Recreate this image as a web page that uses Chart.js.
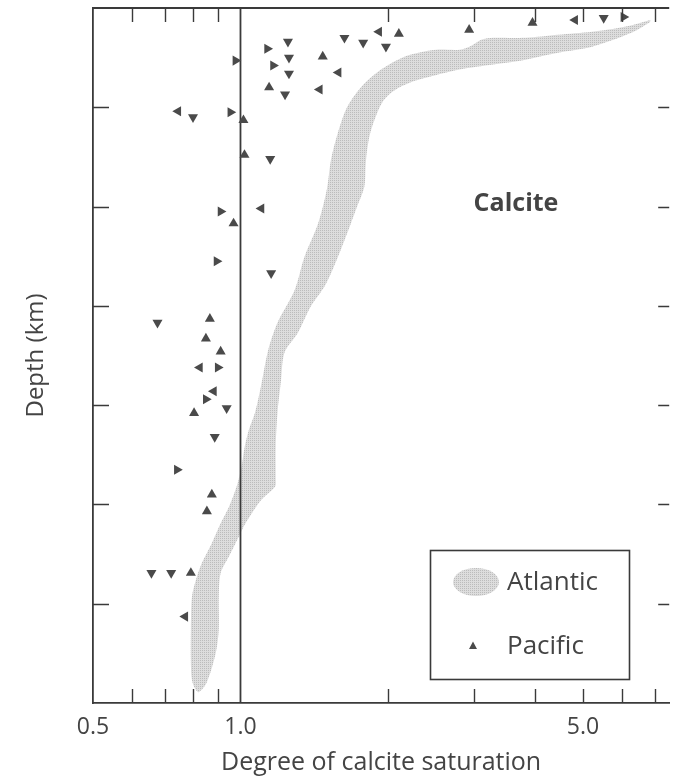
<!DOCTYPE html>
<html>
<head>
<meta charset="utf-8">
<script src="https://cdn.jsdelivr.net/npm/chart.js@4/dist/chart.umd.min.js"></script>
<style>
  html, body { margin: 0; padding: 0; background: #ffffff; }
  #wrap { width: 675px; height: 779px; }
</style>
</head>
<body>
<div id="wrap"><canvas id="c" width="675" height="779"></canvas></div>
<script>
// ---------- data ----------
const satTickLabels = [0.5, 1.0, 5.0];
const satMinorTicks = [0.6, 0.7, 0.8, 0.9, 2, 3, 4, 5, 6, 7];
const depthTicks = [1, 2, 3, 4, 5, 6];

// Atlantic band: upper/left edge (from surface tip down to the bottom)
const atlUpperSat   = [6.86, 6.08, 5.22, 4.45, 3.82, 3.28, 3.10, 2.96, 2.80, 2.51, 2.22, 2.06, 1.90, 1.76, 1.65, 1.58, 1.53, 1.50, 1.44, 1.35, 1.29, 1.19, 1.14, 1.10, 1.07, 1.04, 1.02, 1.005, 0.982, 0.946, 0.911, 0.874, 0.834, 0.811, 0.796, 0.792, 0.792, 0.796, 0.811];
const atlUpperDepth = [0.12, 0.19, 0.24, 0.27, 0.30, 0.30, 0.32, 0.38, 0.42, 0.42, 0.47, 0.54, 0.65, 0.80, 1.00, 1.26, 1.53, 1.83, 2.17, 2.51, 2.84, 3.17, 3.44, 3.82, 4.08, 4.25, 4.42, 4.62, 4.82, 5.03, 5.19, 5.39, 5.59, 5.76, 5.93, 6.26, 6.60, 6.77, 6.87];
// Atlantic band: lower/right edge (from surface tip down to the bottom)
const atlLowerSat   = [6.86, 6.28, 5.22, 4.45, 3.64, 3.28, 2.80, 2.40, 2.22, 2.06, 1.96, 1.90, 1.84, 1.81, 1.80, 1.79, 1.73, 1.68, 1.58, 1.49, 1.39, 1.31, 1.23, 1.21, 1.19, 1.18, 1.18, 1.177, 1.10, 1.024, 0.991, 0.946, 0.911, 0.903, 0.903, 0.890, 0.854, 0.823];
const atlLowerDepth = [0.14, 0.25, 0.39, 0.45, 0.54, 0.57, 0.62, 0.70, 0.75, 0.83, 0.93, 1.06, 1.26, 1.46, 1.60, 1.80, 2.00, 2.17, 2.51, 2.79, 3.01, 3.27, 3.47, 3.75, 4.08, 4.42, 4.75, 4.82, 4.96, 5.19, 5.33, 5.53, 5.69, 5.93, 6.26, 6.50, 6.79, 6.89];

// Pacific stations
const pacificSat   = [1.134, 1.250, 1.256, 1.166, 1.256, 1.144, 1.233, 1.472, 1.585, 1.451, 1.630, 1.780, 1.918, 1.981, 2.105, 0.977, 2.929, 3.945, 4.818, 5.513, 6.051,
                      0.746, 0.800, 0.954, 1.014, 1.019, 1.150, 0.911, 1.103, 0.968, 0.894, 1.155,
                      0.677, 0.866, 0.850, 0.911, 0.826, 0.899, 0.882, 0.850, 0.937, 0.804, 0.886,
                      0.742, 0.874, 0.854, 0.658, 0.722, 0.792, 0.771];
const pacificDepth = [0.41, 0.34, 0.50, 0.58, 0.66, 0.80, 0.87, 0.49, 0.65, 0.82, 0.30, 0.35, 0.24, 0.39, 0.26, 0.53, 0.22, 0.15, 0.12, 0.10, 0.09,
                      1.04, 1.10, 1.05, 1.13, 1.48, 1.52, 2.05, 2.02, 2.17, 2.55, 2.67,
                      3.17, 3.13, 3.33, 3.46, 3.62, 3.62, 3.86, 3.94, 4.03, 4.08, 4.32,
                      4.65, 4.90, 5.07, 5.69, 5.69, 5.69, 6.13];
const pacificDir   = ['right','down','down','right','down','up','down','up','left','left','down','down','left','down','up','right','up','up','left','down','right',
                      'left','down','right','up','up','down','right','left','up','right','down',
                      'down','up','up','up','left','right','left','right','down','up','down',
                      'right','up','up','down','down','up','left'];

const saturationLine = [1.0, 1.0];
const saturationLineDepth = [0, 7];

// ---------- styling helpers ----------
const INK = '#3a3a3a';
const TEXT = '#444444';
const MARK = '#4a4a4a';
const FONT = '"Open Sans", "Noto Sans", sans-serif';

function makeDotPattern() {
  const p = document.createElement('canvas');
  p.width = 2; p.height = 2;
  const g = p.getContext('2d');
  g.fillStyle = '#dddddd';
  g.fillRect(0, 0, 2, 2);
  g.fillStyle = '#bcbcbc';
  g.fillRect(0, 0, 1, 1);
  return g.createPattern(p, 'repeat');
}
const bandFill = makeDotPattern();

const rotationOf = { up: 0, right: 90, down: 180, left: 270 };

const bandPolygon = atlUpperSat.map((s, i) => ({ x: s, y: atlUpperDepth[i] }))
  .concat(atlLowerSat.map((s, i) => ({ x: s, y: atlLowerDepth[i] })).reverse());

const pacificPoints = pacificSat.map((s, i) => ({ x: s, y: pacificDepth[i] }));
const pacificRot = pacificDir.map(d => rotationOf[d]);

const linePoints = saturationLine.map((s, i) => ({ x: s, y: saturationLineDepth[i] }));

// ---------- decoration plugin (frame ticks, legend, label) ----------
const decor = {
  id: 'decor',
  afterDatasetsDraw(chart) {
    const { ctx, chartArea: a, scales: { x: xs, y: ys } } = chart;
    ctx.save();
    ctx.strokeStyle = INK;
    ctx.lineWidth = 1.8;
    ctx.beginPath();
    ctx.moveTo(a.left, a.top); ctx.lineTo(a.right, a.top);
    ctx.stroke();
    ctx.lineWidth = 1.4;
    ctx.beginPath();
    satMinorTicks.forEach(v => {
      const px = Math.round(xs.getPixelForValue(v)) + 0.5;
      ctx.moveTo(px, a.top); ctx.lineTo(px, a.top + 14);
      ctx.moveTo(px, a.bottom); ctx.lineTo(px, a.bottom - 14);
    });
    depthTicks.forEach(d => {
      const py = Math.round(ys.getPixelForValue(d)) + 0.5;
      ctx.moveTo(a.left, py); ctx.lineTo(a.left + 16, py);
      ctx.moveTo(a.right, py); ctx.lineTo(a.right - 11, py);
    });
    ctx.stroke();

    // label
    ctx.fillStyle = TEXT;
    ctx.font = 'bold 25px ' + FONT;
    ctx.textAlign = 'center';
    ctx.textBaseline = 'middle';
    ctx.fillText('Calcite', 516, 204);

    // legend
    ctx.lineWidth = 1.6;
    ctx.strokeStyle = INK;
    ctx.strokeRect(430.5, 550.5, 199, 129);
    ctx.fillStyle = bandFill;
    ctx.beginPath();
    ctx.ellipse(476, 582, 23, 14, 0, 0, Math.PI * 2);
    ctx.fill();
    ctx.fillStyle = MARK;
    ctx.beginPath();
    ctx.moveTo(473, 641.5); ctx.lineTo(477, 649); ctx.lineTo(469, 649); ctx.closePath();
    ctx.fill();
    ctx.fillStyle = TEXT;
    ctx.font = '26px ' + FONT;
    ctx.textAlign = 'left';
    ctx.fillText('Atlantic', 507, 583);
    ctx.fillText('Pacific', 507, 647);
    ctx.restore();
  }
};

new Chart(document.getElementById('c'), {
  type: 'scatter',
  data: {
    datasets: [
      {
        label: 'Pacific',
        data: pacificPoints,
        pointStyle: 'triangle',
        pointRadius: 5.8,
        pointRotation: pacificRot,
        backgroundColor: MARK,
        borderWidth: 0,
        order: 1
      },
      {
        type: 'line',
        label: 'Saturation',
        data: linePoints,
        borderColor: INK,
        borderWidth: 1.8,
        pointRadius: 0,
        fill: false,
        order: 2
      },
      {
        type: 'line',
        label: 'Atlantic',
        data: bandPolygon,
        borderWidth: 0,
        borderColor: 'rgba(0,0,0,0)',
        backgroundColor: bandFill,
        pointRadius: 0,
        tension: 0.3,
        fill: 'shape',
        order: 3
      }
    ]
  },
  options: {
    responsive: false,
    animation: false,
    events: [],
    layout: { padding: { top: 8, right: 0, left: 0, bottom: 0 } },
    plugins: {
      legend: { display: false },
      tooltip: { enabled: false }
    },
    scales: {
      x: {
        type: 'logarithmic',
        position: 'bottom',
        min: 0.5,
        max: 7.5,
        afterFit(scale) { scale.height = 76; },
        afterBuildTicks(scale) { scale.ticks = satTickLabels.map(v => ({ value: v })); },
        grid: { display: false, drawTicks: false },
        border: { display: true, color: INK, width: 1.8 },
        ticks: {
          autoSkip: false,
          maxRotation: 0,
          padding: 11,
          color: TEXT,
          font: { family: FONT, size: 23 },
          callback: v => Number(v).toFixed(1)
        },
        title: {
          display: true,
          text: 'Degree of calcite saturation',
          color: TEXT,
          font: { family: FONT, size: 25 },
          padding: { top: 0, bottom: 1 }
        }
      },
      y: {
        type: 'linear',
        position: 'left',
        reverse: true,
        min: 0,
        max: 7,
        afterFit(scale) { scale.width = 93; },
        grid: { display: false, drawTicks: false },
        border: { display: true, color: INK, width: 1.8 },
        ticks: { display: false },
        title: {
          display: true,
          text: 'Depth (km)',
          color: TEXT,
          font: { family: FONT, size: 24 },
          padding: { top: 22, bottom: 0 }
        }
      }
    }
  },
  plugins: [decor]
});
</script>
</body>
</html>
